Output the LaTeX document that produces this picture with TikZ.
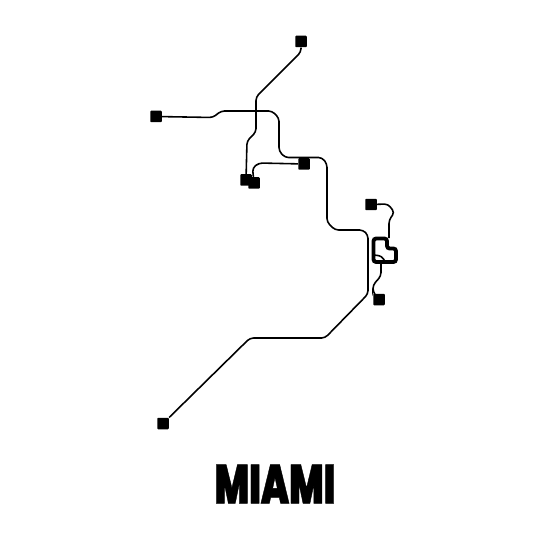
\documentclass[tikz,border=0pt]{standalone}
\usepackage{fontspec}
\setmainfont{Liberation Sans}
\newfontfamily\titlefont[FakeBold=1]{Poppins Black}
\begin{document}
\begin{tikzpicture}[x=0.02cm,y=-0.02cm,stn/.style={rectangle,fill=black,inner sep=0pt,minimum size=0.23cm,rounded corners=0.5pt},ln/.style={draw=black,line width=0.9pt,rounded corners=2pt},lnthick/.style={draw=black,line width=2.2pt,rounded corners=1.5pt},ttl/.style={font=\titlefont\fontsize{31}{31}\selectfont,xscale=0.67,inner sep=0pt}]
\useasboundingbox (0,0) rectangle (550,550);
\node[stn] (nw) at (301,41.5) {}; \node[stn] (west) at (156,116.5) {}; \node[stn] (civic) at (304,164) {};
\node[stn] (palm) at (246,180) {}; \node[stn] (air) at (254,183) {}; \node[stn] (omni) at (371,204.5) {};
\node[stn] (brick) at (379,299.5) {}; \node[stn] (dade) at (163,423.5) {};
\coordinate (loopin) at (381,263);
\draw[ln] (nw) -- (301,52) -- (256,97) -- (256,132) -- (247,141) -- (palm);
\draw[ln] (west) -- (213,117.5) -- (221,111) -- (272,111) -- (279,118) -- (279,151) -- (285,157.5) -- (322,157.5) -- (327,164) -- (327,222) -- (335,230) -- (363,230) -- (368,235) -- (368,294) -- (325,338) -- (250,338) -- (dade);
\draw[ln] (air) -- (252.5,168) -- (259,163) -- (civic);
\draw[ln] (omni) -- (388,204) -- (394.5,212.5) -- (389,220) -- (389,238);
\draw[lnthick] (373.5,238.5) -- (387,238.5) -- (387,248.5) -- (396,248.5) -- (396,262) -- (373.5,262) -- cycle;
\draw[ln] (373.5,255) -- (382,256) -- (385,262);
\draw[ln] (loopin) -- (381,276) -- (373,285) -- (373,292) -- (brick);
\node[ttl] (title) at (275,484) {MIAMI};
\end{tikzpicture}
\end{document}
